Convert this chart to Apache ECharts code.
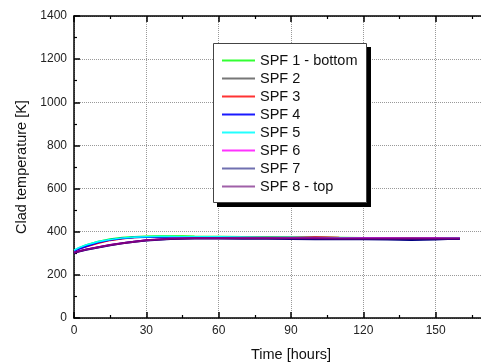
<!DOCTYPE html>
<html>
<head>
<meta charset="utf-8">
<script src="https://cdn.jsdelivr.net/npm/echarts@6/dist/echarts.min.js"></script>
<style>
html,body{margin:0;padding:0;background:#fff;}
#c{width:481px;height:363px;}
</style>
</head>
<body>
<div id="c"></div>
<script>
// Time axis (hours)
const times = [0, 2, 5, 10, 15, 20, 25, 30, 35, 40, 45, 50, 60, 70, 80, 90, 100, 110, 120, 130, 140, 150, 155, 160];
// Clad temperature [K]
const spf1 = [312, 325, 338, 355, 366, 373, 377, 379, 380, 380, 380, 379, 378, 377, 376, 375, 374, 373, 372, 372, 371, 371, 371, 371];
const spf2 = [311, 322, 334, 351, 363, 370, 374, 376, 376, 376, 375, 375, 374, 373, 372, 372, 371, 370, 370, 369, 369, 369, 369, 369];
const spf3 = [311, 320, 330, 347, 360, 368, 373, 376, 377, 377, 377, 376, 375, 375, 374, 374, 376, 373, 372, 371, 371, 370, 370, 370];
const spf4 = [310, 320, 332, 350, 362, 369, 373, 375, 376, 376, 375, 374, 373, 372, 371, 370, 369, 368, 367, 366, 364, 366, 368, 368];
const spf5 = [314, 326, 338, 354, 364, 371, 375, 377, 378, 378, 377, 377, 376, 375, 374, 374, 373, 372, 372, 371, 370, 371, 371, 371];
const spf6 = [304, 310, 318, 329, 339, 348, 355, 361, 365, 368, 370, 371, 371, 371, 371, 371, 371, 370, 371, 371, 370, 371, 370, 370];
const spf7 = [301, 308, 316, 327, 337, 346, 353, 359, 363, 366, 367, 368, 368, 367, 367, 366, 365, 366, 365, 364, 362, 364, 366, 366];
const spf8 = [302, 309, 317, 328, 338, 347, 354, 360, 364, 367, 369, 370, 370, 370, 370, 370, 370, 369, 369, 369, 369, 369, 368, 368];

const names = ['SPF 1 - bottom', 'SPF 2', 'SPF 3', 'SPF 4', 'SPF 5', 'SPF 6', 'SPF 7', 'SPF 8 - top'];
const values = [spf1, spf2, spf3, spf4, spf5, spf6, spf7, spf8];
const colors = ['#00ff00', '#000000', '#ff0000', '#0000ff', '#00ffff', '#ff00ff', '#000080', '#800080'];
const legendColors = ['#33ff33', '#777777', '#ff3333', '#1a1aff', '#22ffff', '#ff33ff', '#7070b0', '#a060a8'];

const font = '"Liberation Sans", Arial, sans-serif';

const chart = echarts.init(document.getElementById('c'), null, {renderer: 'canvas'});

const series = names.map((n, i) => ({
  name: n,
  type: 'line',
  showSymbol: false,
  smooth: false,
  color: colors[i],
  lineStyle: {width: i >= 6 ? 2 : 1.6, color: colors[i]},
  data: times.map((t, j) => [t, values[i][j]]),
  z: 2 + i
}));

const axisCommon = {
  axisLine: {show: true, onZero: false, lineStyle: {color: '#000', width: 1.5}},
  axisTick: {show: true, inside: true, length: 6, lineStyle: {color: '#000', width: 1.5}},
  minorTick: {show: true, splitNumber: 2, length: 3, lineStyle: {color: '#000', width: 1.2}}
};

const plain = v => String(v);

chart.setOption({
  animation: false,
  backgroundColor: '#fff',
  textStyle: {fontFamily: font},
  grid: {left: 74, top: 16, width: 434, height: 302, containLabel: false, outerBoundsMode: 'none'},
  graphic: [
    {type: 'rect', shape: {x: 217, y: 47, width: 154, height: 160}, style: {fill: '#000'}, z: 50, silent: true},
    {type: 'rect', shape: {x: 213.5, y: 43.5, width: 153, height: 159}, style: {fill: '#fff', stroke: '#444', lineWidth: 1}, z: 51, silent: true}
  ],
  legend: {
    orient: 'vertical',
    left: 222,
    top: 53,
    padding: 0,
    z: 60,
    itemWidth: 33,
    itemHeight: 2,
    itemGap: 3,
    itemTextGap: 4,
    icon: 'rect',
    textStyle: {fontFamily: font, fontSize: 14.5, color: '#111', lineHeight: 15},
    data: names.map((n, i) => ({name: n, itemStyle: {color: legendColors[i]}}))
  },
  xAxis: [
    Object.assign({
      type: 'value',
      min: 0,
      max: 180,
      interval: 30,
      position: 'bottom',
      name: 'Time [hours]',
      nameLocation: 'middle',
      nameGap: 29,
      nameTextStyle: {fontFamily: font, fontSize: 14.5, color: '#111'},
      axisLabel: {fontFamily: font, fontSize: 12, color: '#222', margin: 7, formatter: plain},
      splitLine: {show: true, lineStyle: {color: '#999', type: 'dotted', width: 1}}
    }, axisCommon),
    Object.assign({
      type: 'value',
      min: 0,
      max: 180,
      interval: 30,
      position: 'top',
      axisLabel: {show: false},
      splitLine: {show: false}
    }, axisCommon)
  ],
  yAxis: [
    Object.assign({
      type: 'value',
      min: 0,
      max: 1400,
      interval: 200,
      position: 'left',
      name: 'Clad temperature [K]',
      nameLocation: 'middle',
      nameGap: 42,
      nameRotate: 90,
      nameTextStyle: {fontFamily: font, fontSize: 14.5, color: '#111'},
      axisLabel: {fontFamily: font, fontSize: 12, color: '#222', margin: 7, formatter: plain},
      splitLine: {show: true, lineStyle: {color: '#999', type: 'dotted', width: 1}}
    }, axisCommon)
  ],
  series: series
});
</script>
</body>
</html>
